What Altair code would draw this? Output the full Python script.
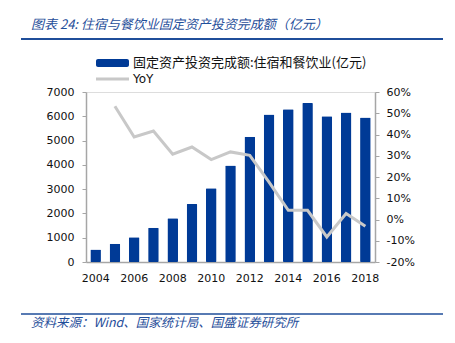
import altair as alt
import pandas as pd

years = [2004, 2005, 2006, 2007, 2008, 2009, 2010, 2011, 2012, 2013, 2014, 2015, 2016, 2017, 2018]
invest = [510, 750, 1020, 1410, 1800, 2390, 3040, 3970, 5160, 6070, 6290, 6550, 6000, 6160, 5950]
yoy_years = [2005, 2006, 2007, 2008, 2009, 2010, 2011, 2012, 2013, 2014, 2015, 2016, 2017, 2018]
yoy = [53.3, 38.8, 41.6, 30.7, 34.1, 28.2, 31.8, 30.2, 17.6, 4.3, 4.3, -8.2, 2.8, -3.2]

title_text = "图表 24:  住宿与餐饮业固定资产投资完成额（亿元）"
source_text = "资料来源：Wind、国家统计局、国盛证券研究所"
legend_bar = "固定资产投资完成额:住宿和餐饮业(亿元)"
legend_line = "YoY"
left_ticks = [0, 1000, 2000, 3000, 4000, 5000, 6000, 7000]
right_ticks = [-20, -10, 0, 10, 20, 30, 40, 50, 60]
x_labels = [2004, 2006, 2008, 2010, 2012, 2014, 2016, 2018]

BLUE = "#003A96"
GREY = "#C8C8C8"
TXT_BLUE = "#1F4E9A"
NUM_FONT = "DejaVu Sans"
CJK = "Noto Sans CJK SC"

bar_df = pd.DataFrame({"year": years, "value": invest})
line_df = pd.DataFrame({"year": yoy_years, "yoy": yoy})

xenc = alt.X(
    "year:O",
    scale=alt.Scale(domain=years, paddingInner=0.45, paddingOuter=0.225),
    axis=alt.Axis(
        values=x_labels, title=None, labelAngle=0, labelFont=NUM_FONT, labelFontSize=11,
        labelColor="#111", domainColor="#A6A6A6", domainWidth=1.5, ticks=False, labelPadding=10,
    ),
)

bars = alt.Chart(bar_df).mark_bar(color=BLUE, cornerRadius=1).encode(
    x=xenc,
    y=alt.Y(
        "value:Q",
        scale=alt.Scale(domain=[0, 7000], nice=False),
        axis=alt.Axis(
            values=left_ticks, format="d", title=None, grid=False, labelFont=NUM_FONT,
            labelFontSize=11, labelColor="#111", domainColor="#A6A6A6", domainWidth=1.5,
            tickColor="#A6A6A6", tickSize=4, labelPadding=8,
        ),
    ),
)

line = alt.Chart(line_df).mark_line(color=GREY, strokeWidth=3).encode(
    x=alt.X("year:O", scale=alt.Scale(domain=years, paddingInner=0.45, paddingOuter=0.225)),
    y=alt.Y(
        "yoy:Q",
        scale=alt.Scale(domain=[-20, 60], nice=False),
        axis=alt.Axis(
            orient="right", values=right_ticks, title=None, grid=False,
            labelExpr="datum.value + '%'", labelFont=NUM_FONT, labelFontSize=11,
            labelColor="#111", domainColor="#A6A6A6", domainWidth=1.5, tickColor="#A6A6A6",
            tickSize=4, labelPadding=7,
        ),
    ),
)

def text_layer(txt, x, y, size, color, font, italic=False):
    return alt.Chart(pd.DataFrame({"t": [txt]})).mark_text(
        align="left", baseline="middle", fontSize=size, color=color, font=font,
        fontStyle="italic" if italic else "normal",
    ).encode(x=alt.value(x), y=alt.value(y), text="t:N")

deco_df = pd.DataFrame({"k": [0]})
title_rule = alt.Chart(deco_df).mark_rule(color=TXT_BLUE, strokeWidth=2).encode(
    x=alt.value(-65), x2=alt.value(357), y=alt.value(-53))
foot_rule = alt.Chart(deco_df).mark_rule(color=TXT_BLUE, strokeWidth=1.5).encode(
    x=alt.value(-65), x2=alt.value(357), y=alt.value(222))
leg_bar = alt.Chart(deco_df).mark_rect(color=BLUE, cornerRadius=2).encode(
    x=alt.value(10), x2=alt.value(43), y=alt.value(-33), y2=alt.value(-25))
leg_line = alt.Chart(deco_df).mark_rule(color=GREY, strokeWidth=3).encode(
    x=alt.value(10), x2=alt.value(43), y=alt.value(-13))

title = text_layer(title_text, -55, -67, 13, TXT_BLUE, CJK, italic=True)
source = text_layer(source_text, -55, 231, 12.5, TXT_BLUE, CJK, italic=True)
leg_t1 = text_layer(legend_bar, 47, -29, 13, "#111", CJK)
leg_t2 = text_layer(legend_line, 47, -13, 12, "#111", NUM_FONT)

chart = alt.layer(
    bars, line, title_rule, foot_rule, leg_bar, leg_line, title, source, leg_t1, leg_t2
).resolve_scale(y="independent").properties(
    width=289, height=170,
    autosize=alt.AutoSizeParams(type="none"),
    padding={"left": 86, "top": 92, "right": 80, "bottom": 81},
).configure_view(stroke=None).configure(background="white")

chart.save("out.html", embed_options={"renderer": "svg", "actions": False})
